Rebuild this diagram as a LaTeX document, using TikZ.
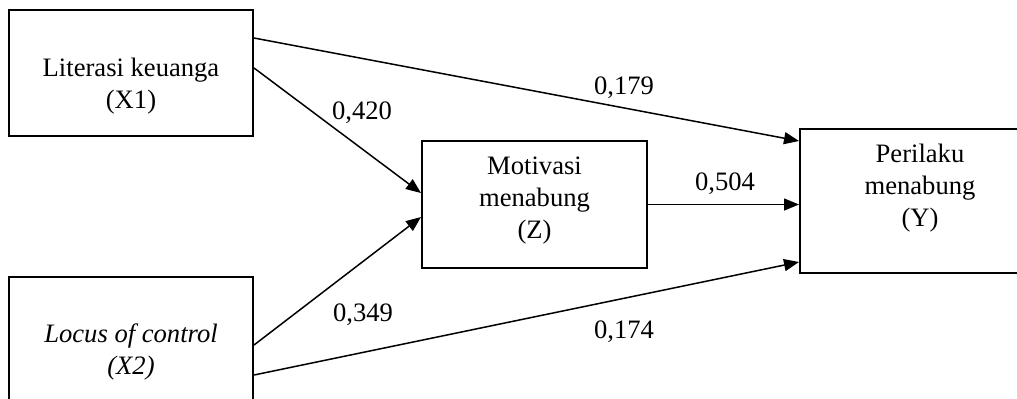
\documentclass[tikz,border=0pt]{standalone}
\usepackage{fontspec}
\setmainfont{Liberation Serif}
\usetikzlibrary{arrows.meta}
\begin{document}
\begin{tikzpicture}[x=0.5pt,y=-0.5pt,
  box/.style={draw,line width=1pt,inner sep=0pt},
  txt/.style={align=center,font=\fontsize{13.3}{16}\selectfont,inner sep=0pt},
  lbl/.style={font=\fontsize{13.3}{16}\selectfont,inner sep=0pt},
  arr/.style={line width=0.75pt,-{Triangle[length=7.5pt,width=6pt]}}]
\useasboundingbox (0,0) rectangle (1017,398);
\clip (0,0) rectangle (1017,398);
\node[box,minimum width=122pt,minimum height=63pt] (X1) at (131,73) {};
\node[box,minimum width=122pt,minimum height=70pt] (X2) at (131,347) {};
\node[box,minimum width=112.5pt,minimum height=63.5pt] (Z) at (534.5,204.5) {};
\node[box,minimum width=120pt,minimum height=72pt] (Y) at (920,201) {};
\node[txt] (tX1) at ([yshift=-6.5pt]X1.center) {Literasi keuanga\\(X1)};
\node[txt] (tX2) at ([yshift=-2.5pt]X2.center) {\itshape Locus of control\\\itshape (X2)};
\node[txt] (tZ) at ([yshift=2pt]Z.center) {Motivasi\\menabung\\(Z)};
\node[txt] (tY) at ([yshift=6.5pt]Y.center) {Perilaku\\menabung\\(Y)};
\draw[arr] ([yshift=17.5pt]X1.east) -- ([yshift=30pt]Y.west);
\draw[arr] ([yshift=2.5pt]X1.east) -- ([yshift=5.75pt]Z.west);
\draw[arr] ([yshift=1pt]X2.east) -- ([yshift=-6.25pt]Z.west);
\draw[arr] ([yshift=-14pt]X2.east) -- ([yshift=-30.5pt]Y.west);
\draw[arr] (Z.east) -- (Z.east -| Y.west);
\node[lbl] (l1) at (362,113) {0,420};
\node[lbl] (l2) at (624,88) {0,179};
\node[lbl] (l3) at (725,184) {0,504};
\node[lbl] (l4) at (363,315) {0,349};
\node[lbl] (l5) at (624,332) {0,174};
\end{tikzpicture}
\end{document}
